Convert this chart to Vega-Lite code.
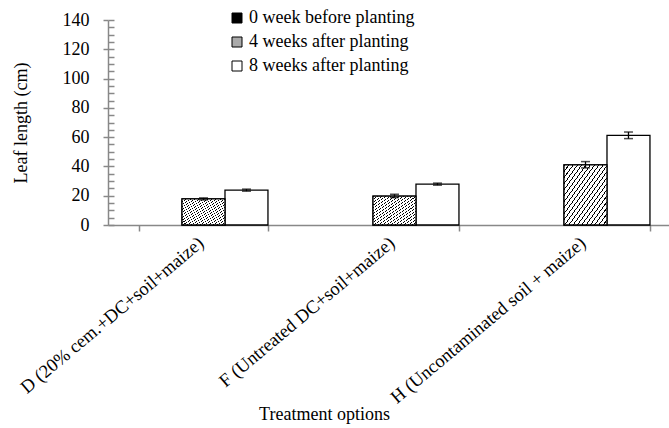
{
  "$schema": "https://vega.github.io/schema/vega-lite/v6.json",
  "width": 561,
  "height": 205,
  "autosize": {"type": "none"},
  "padding": {"left": 108, "top": 20, "right": 0, "bottom": 203},
  "background": "white",
  "config": {
    "view": {"stroke": null},
    "font": "Liberation Serif",
    "axis": {
      "domainColor": "#888888",
      "tickColor": "#888888",
      "labelColor": "black",
      "titleColor": "black",
      "labelFont": "Liberation Serif",
      "titleFont": "Liberation Serif",
      "labelFontSize": 18,
      "titleFontSize": 18,
      "titleFontWeight": "normal",
      "grid": false,
      "domainWidth": 1.5,
      "tickWidth": 1.5
    }
  },
  "resolve": {"axis": {"y": "independent"}},
  "data": {
    "values": [
      {"treatment": "D (20% cem.+DC+soil+maize)", "series": "0 week before planting", "mean": 0, "lo": null, "hi": null},
      {"treatment": "D (20% cem.+DC+soil+maize)", "series": "4 weeks after planting", "mean": 17.8, "lo": 17.1, "hi": 18.5},
      {"treatment": "D (20% cem.+DC+soil+maize)", "series": "8 weeks after planting", "mean": 23.8, "lo": 23.1, "hi": 24.5},
      {"treatment": "F (Untreated DC+soil+maize)", "series": "0 week before planting", "mean": 0, "lo": null, "hi": null},
      {"treatment": "F (Untreated DC+soil+maize)", "series": "4 weeks after planting", "mean": 19.7, "lo": 18.7, "hi": 21.0},
      {"treatment": "F (Untreated DC+soil+maize)", "series": "8 weeks after planting", "mean": 27.9, "lo": 27.2, "hi": 28.6},
      {"treatment": "H (Uncontaminated soil + maize)", "series": "0 week before planting", "mean": 0, "lo": null, "hi": null},
      {"treatment": "H (Uncontaminated soil + maize)", "series": "4 weeks after planting", "mean": 41.0, "lo": 39.0, "hi": 43.3},
      {"treatment": "H (Uncontaminated soil + maize)", "series": "8 weeks after planting", "mean": 61.2, "lo": 59.0, "hi": 63.5}
    ]
  },
  "encoding": {
    "x": {
      "field": "treatment",
      "type": "nominal",
      "sort": null,
      "scale": {"paddingInner": 0.325, "paddingOuter": 0.1625, "range": [0, 573]},
      "axis": {
        "title": "Treatment options",
        "labelAngle": -40,
        "labelAlign": "right",
        "labelBaseline": "middle",
        "labelPadding": 9,
        "labelOffset": -3,
        "labelFontSize": 18.5,
        "tickBand": "extent",
        "tickSize": 6,
        "titleX": 216,
        "titleY": 180,
        "labelLimit": 400,
        "labelOverlap": false
      }
    },
    "xOffset": {
      "field": "series",
      "type": "nominal",
      "sort": ["0 week before planting", "4 weeks after planting", "8 weeks after planting"],
      "scale": {"domain": ["0 week before planting", "4 weeks after planting", "8 weeks after planting"], "paddingInner": 0, "paddingOuter": 0}
    }
  },
  "layer": [
    {
      "transform": [{"filter": "datum.mean > 0"}],
      "mark": {"type": "bar", "stroke": "black", "strokeWidth": 1.3},
      "encoding": {
        "y": {
          "field": "mean",
          "type": "quantitative",
          "scale": {"domain": [0, 140]},
          "axis": {
            "orient": "left",
            "title": "Leaf length (cm)",
            "values": [0, 20, 40, 60, 80, 100, 120, 140],
            "labelOverlap": false,
            "labelFlush": false,
            "tickSize": 5,
            "labelPadding": 14,
            "titlePadding": 32
          }
        },
        "color": {
          "field": "series",
          "type": "nominal",
          "scale": {"domain": ["0 week before planting", "4 weeks after planting", "8 weeks after planting"], "range": ["black", "#aaaaaa", "white"]},
          "legend": {
            "title": null,
            "orient": "none",
            "legendX": 120,
            "legendY": -11,
            "labelFont": "Liberation Serif",
            "labelFontSize": 18,
            "labelColor": "black",
            "labelLimit": 400,
            "symbolType": "square",
            "symbolSize": 100,
            "symbolStrokeColor": "black",
            "symbolStrokeWidth": 1,
            "rowPadding": 6,
            "labelOffset": 3,
            "encode": {
              "symbols": {
                "update": {
                  "fill": [
                    {"test": "datum.value === '0 week before planting'", "value": "black"},
                    {"test": "datum.value === '4 weeks after planting'", "value": {"gradient": "linear", "x1": 0, "y1": 0, "x2": 1, "y2": 1, "stops": [
                      {"offset": 0, "color": "black"}, {"offset": 0.1, "color": "black"}, {"offset": 0.1, "color": "white"}, {"offset": 0.33, "color": "white"},
                      {"offset": 0.33, "color": "black"}, {"offset": 0.43, "color": "black"}, {"offset": 0.43, "color": "white"}, {"offset": 0.66, "color": "white"},
                      {"offset": 0.66, "color": "black"}, {"offset": 0.76, "color": "black"}, {"offset": 0.76, "color": "white"}, {"offset": 1, "color": "white"}
                    ]}},
                    {"value": "white"}
                  ],
                  "stroke": {"value": "black"}
                }
              }
            }
          }
        }
      }
    },
    {
      "transform": [{"filter": "datum.series === '4 weeks after planting'"}],
      "mark": {
        "type": "bar",
        "stroke": "black",
        "strokeWidth": 1.3,
        "fill": {"gradient": "linear", "x1": 0, "y1": 0, "x2": 1, "y2": 1, "stops": [
          {"offset": 0, "color": "black"}, {"offset": 0.012, "color": "black"}, {"offset": 0.012, "color": "white"}, {"offset": 0.05, "color": "white"},
          {"offset": 0.05, "color": "black"}, {"offset": 0.062, "color": "black"}, {"offset": 0.062, "color": "white"}, {"offset": 0.1, "color": "white"},
          {"offset": 0.1, "color": "black"}, {"offset": 0.112, "color": "black"}, {"offset": 0.112, "color": "white"}, {"offset": 0.15, "color": "white"},
          {"offset": 0.15, "color": "black"}, {"offset": 0.162, "color": "black"}, {"offset": 0.162, "color": "white"}, {"offset": 0.2, "color": "white"},
          {"offset": 0.2, "color": "black"}, {"offset": 0.212, "color": "black"}, {"offset": 0.212, "color": "white"}, {"offset": 0.25, "color": "white"},
          {"offset": 0.25, "color": "black"}, {"offset": 0.262, "color": "black"}, {"offset": 0.262, "color": "white"}, {"offset": 0.3, "color": "white"},
          {"offset": 0.3, "color": "black"}, {"offset": 0.312, "color": "black"}, {"offset": 0.312, "color": "white"}, {"offset": 0.35, "color": "white"},
          {"offset": 0.35, "color": "black"}, {"offset": 0.362, "color": "black"}, {"offset": 0.362, "color": "white"}, {"offset": 0.4, "color": "white"},
          {"offset": 0.4, "color": "black"}, {"offset": 0.412, "color": "black"}, {"offset": 0.412, "color": "white"}, {"offset": 0.45, "color": "white"},
          {"offset": 0.45, "color": "black"}, {"offset": 0.462, "color": "black"}, {"offset": 0.462, "color": "white"}, {"offset": 0.5, "color": "white"},
          {"offset": 0.5, "color": "black"}, {"offset": 0.512, "color": "black"}, {"offset": 0.512, "color": "white"}, {"offset": 0.55, "color": "white"},
          {"offset": 0.55, "color": "black"}, {"offset": 0.562, "color": "black"}, {"offset": 0.562, "color": "white"}, {"offset": 0.6, "color": "white"},
          {"offset": 0.6, "color": "black"}, {"offset": 0.612, "color": "black"}, {"offset": 0.612, "color": "white"}, {"offset": 0.65, "color": "white"},
          {"offset": 0.65, "color": "black"}, {"offset": 0.662, "color": "black"}, {"offset": 0.662, "color": "white"}, {"offset": 0.7, "color": "white"},
          {"offset": 0.7, "color": "black"}, {"offset": 0.712, "color": "black"}, {"offset": 0.712, "color": "white"}, {"offset": 0.75, "color": "white"},
          {"offset": 0.75, "color": "black"}, {"offset": 0.762, "color": "black"}, {"offset": 0.762, "color": "white"}, {"offset": 0.8, "color": "white"},
          {"offset": 0.8, "color": "black"}, {"offset": 0.812, "color": "black"}, {"offset": 0.812, "color": "white"}, {"offset": 0.85, "color": "white"},
          {"offset": 0.85, "color": "black"}, {"offset": 0.862, "color": "black"}, {"offset": 0.862, "color": "white"}, {"offset": 0.9, "color": "white"},
          {"offset": 0.9, "color": "black"}, {"offset": 0.912, "color": "black"}, {"offset": 0.912, "color": "white"}, {"offset": 0.95, "color": "white"},
          {"offset": 0.95, "color": "black"}, {"offset": 0.962, "color": "black"}, {"offset": 0.962, "color": "white"}, {"offset": 1, "color": "white"}
        ]}
      },
      "encoding": {
        "y": {"field": "mean", "type": "quantitative", "axis": null}
      }
    },
    {
      "transform": [{"filter": "datum.lo != null"}],
      "mark": {"type": "rule", "color": "black", "strokeWidth": 1.3},
      "encoding": {
        "y": {
          "field": "lo",
          "type": "quantitative",
          "axis": {
            "orient": "left",
            "title": null,
            "values": [0,5,10,15,20,25,30,35,40,45,50,55,60,65,70,75,80,85,90,95,100,105,110,115,120,125,130,135,140],
            "labels": false,
            "domain": false,
            "tickSize": -6
          }
        },
        "y2": {"field": "hi"}
      }
    },
    {
      "transform": [{"filter": "datum.lo != null"}],
      "mark": {"type": "tick", "color": "black", "size": 9, "thickness": 1.5},
      "encoding": {
        "y": {"field": "lo", "type": "quantitative", "axis": null}
      }
    },
    {
      "transform": [{"filter": "datum.lo != null"}],
      "mark": {"type": "tick", "color": "black", "size": 9, "thickness": 1.5},
      "encoding": {
        "y": {"field": "hi", "type": "quantitative", "axis": null}
      }
    }
  ]
}
